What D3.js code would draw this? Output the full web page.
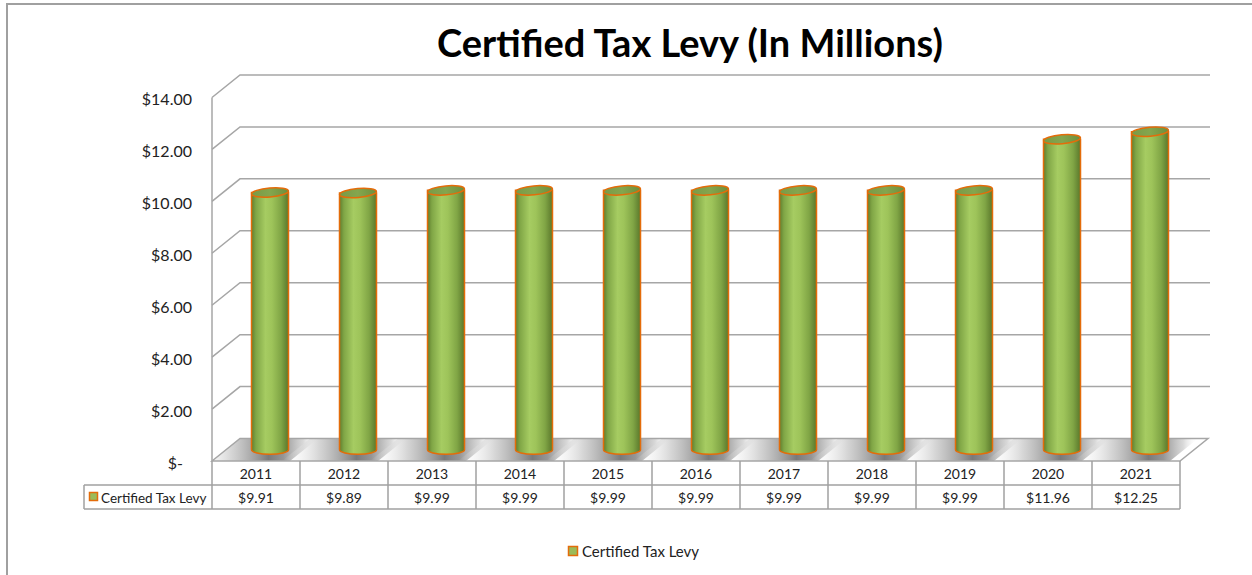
<!DOCTYPE html>
<html>
<head>
<meta charset="utf-8">
<script src="https://cdn.jsdelivr.net/npm/d3@7"></script>
<style>
  html, body { margin: 0; padding: 0; background: #fff; }
  svg { display: block; font-family: Lato, "Open Sans", sans-serif; }
</style>
</head>
<body>
<svg id="chart" width="1252" height="575"></svg>
<script>
// ---- data ----
const title = "Certified Tax Levy (In Millions)";
const seriesName = "Certified Tax Levy";
const years = ["2011","2012","2013","2014","2015","2016","2017","2018","2019","2020","2021"];
const values = [9.91, 9.89, 9.99, 9.99, 9.99, 9.99, 9.99, 9.99, 9.99, 11.96, 12.25];
const valueLabels = ["$9.91","$9.89","$9.99","$9.99","$9.99","$9.99","$9.99","$9.99","$9.99","$11.96","$12.25"];
const yTicks = [0, 2, 4, 6, 8, 10, 12, 14];
const yTickLabels = ["$-", "$2.00", "$4.00", "$6.00", "$8.00", "$10.00", "$12.00", "$14.00"];

// ---- layout ----
const svg = d3.select("#chart");
const W = 1252, H = 575;
const front = { left: 212, right: 1180, bottom: 461, top: 97.5 };
const depth = { dx: 28, dy: -22.5 };
const gridColor = "#a6a6a6";

const x = d3.scaleBand().domain(years).range([front.left, front.right]).paddingInner(0).paddingOuter(0);
const y = d3.scaleLinear().domain([0, 14]).range([front.bottom, front.top]);

const defs = svg.append("defs");

// outer chart border
svg.append("path")
  .attr("d", `M7,${H + 2} L7,4 L${W + 2},4`)
  .attr("fill", "none").attr("stroke", "#a0a0a0").attr("stroke-width", 2);

// title
svg.append("text")
  .attr("x", 690).attr("y", 57)
  .attr("text-anchor", "middle")
  .attr("font-size", 38).attr("font-weight", "bold").attr("fill", "#000")
  .text(title);

// back wall gridlines + side diagonals
const grid = svg.append("g").attr("fill", "none").attr("stroke", gridColor).attr("stroke-width", 1.5);
yTicks.forEach(t => {
  const yf = y(t), yb = y(t) + depth.dy;
  if (t > 0) {
    grid.append("path").attr("d", `M${front.left},${yf} L${front.left + depth.dx},${yb} L${front.right + depth.dx + 2},${yb}`);
  }
});
// front-left vertical axis edge
grid.append("line").attr("x1", front.left).attr("x2", front.left)
  .attr("y1", y(14)).attr("y2", front.bottom);

// floor
const floorPts = [
  [front.left, front.bottom],
  [front.left + depth.dx, front.bottom + depth.dy],
  [front.right + depth.dx, front.bottom + depth.dy],
  [front.right, front.bottom]
];
defs.append("clipPath").attr("id", "floorClip")
  .append("polygon").attr("points", floorPts.map(p => p.join(",")).join(" "));

// shadow gradient
const sg = defs.append("linearGradient").attr("id", "shadowGrad")
  .attr("x1", "0").attr("x2", "1").attr("y1", "0").attr("y2", "0");
[[0, "#ffffff", 0], [0.3, "#c4c4c4", 0.7], [0.6, "#7a7a7a", 1], [0.72, "#909090", 0.95], [0.88, "#c8c8c8", 0.7], [1, "#ffffff", 0]]
  .forEach(([o, c, a]) => sg.append("stop").attr("offset", o).attr("stop-color", c).attr("stop-opacity", a));

const shadowG = svg.append("g").attr("clip-path", "url(#floorClip)");
years.forEach((yr, i) => {
  const cx = x(yr) + x.bandwidth() / 2 + depth.dx / 2;
  const fx0 = cx - 62, fx1 = cx + 34;
  const pts = [
    [fx0 - depth.dx / 2, front.bottom],
    [fx0 + depth.dx / 2, front.bottom + depth.dy],
    [fx1 + depth.dx / 2, front.bottom + depth.dy],
    [fx1 - depth.dx / 2, front.bottom]
  ];
  shadowG.append("polygon").attr("points", pts.map(p => p.join(",")).join(" "))
    .attr("fill", "url(#shadowGrad)");
});

svg.append("polygon").attr("points", floorPts.map(p => p.join(",")).join(" "))
  .attr("fill", "none").attr("stroke", gridColor).attr("stroke-width", 1.5);

// y labels
svg.append("g").selectAll("text").data(yTicks).join("text")
  .attr("x", (d, i) => d === 0 ? 183 : 192)
  .attr("y", d => y(d) + 2)
  .attr("dy", "0.35em")
  .attr("text-anchor", "end")
  .attr("font-size", 16).attr("fill", "#222")
  .text((d, i) => yTickLabels[i]);

// cylinder gradients
const bodyGrad = defs.append("linearGradient").attr("id", "bodyGrad")
  .attr("x1", "0").attr("x2", "1").attr("y1", "0").attr("y2", "0");
[[0, "#5f7d2e"], [0.12, "#80a646"], [0.38, "#a6cc62"], [0.55, "#9ec45a"], [0.8, "#80a545"], [1, "#5a772b"]]
  .forEach(([o, c]) => bodyGrad.append("stop").attr("offset", o).attr("stop-color", c));
const topGrad = defs.append("linearGradient").attr("id", "topGrad")
  .attr("x1", "0").attr("x2", "1").attr("y1", "0").attr("y2", "0");
[[0, "#7a9a46"], [0.5, "#84a64e"], [1, "#6e8e3b"]]
  .forEach(([o, c]) => topGrad.append("stop").attr("offset", o).attr("stop-color", c));

// cylinders
const r = 18.5, ry = 4.5;
const cyl = svg.append("g");
years.forEach((yr, i) => {
  const cx = x(yr) + x.bandwidth() / 2 + depth.dx / 2;
  const yBot = y(0) + depth.dy / 2;
  const yTop = y(values[i]) + depth.dy / 2;
  const g = cyl.append("g");
  g.append("path")
    .attr("d", `M${cx - r},${yTop} L${cx - r},${yBot} A${r},${ry} 0 0 0 ${cx + r},${yBot} L${cx + r},${yTop} Z`)
    .attr("fill", "url(#bodyGrad)")
    .attr("stroke", "#e46c0a").attr("stroke-width", 1.5);
  g.append("ellipse")
    .attr("cx", cx).attr("cy", yTop).attr("rx", r).attr("ry", ry)
    .attr("transform", `rotate(-5,${cx},${yTop})`)
    .attr("fill", "url(#topGrad)")
    .attr("stroke", "#e46c0a").attr("stroke-width", 1.5);
});

// data table
const tbl = svg.append("g").attr("fill", "none").attr("stroke", "#a0a0a0").attr("stroke-width", 1.5);
const rowTop = front.bottom, rowMid = 485, rowBot = 509, tblLeft = 84;
tbl.append("line").attr("x1", tblLeft).attr("x2", front.right).attr("y1", rowMid).attr("y2", rowMid);
tbl.append("line").attr("x1", tblLeft).attr("x2", front.right).attr("y1", rowBot).attr("y2", rowBot);
tbl.append("line").attr("x1", tblLeft).attr("x2", tblLeft).attr("y1", rowMid).attr("y2", rowBot);
x.domain().forEach(yr => {
  tbl.append("line").attr("x1", x(yr)).attr("x2", x(yr)).attr("y1", rowTop).attr("y2", rowBot);
});
tbl.append("line").attr("x1", front.right).attr("x2", front.right).attr("y1", rowTop).attr("y2", rowBot);

const tt = svg.append("g").attr("font-size", 14).attr("fill", "#222").attr("text-anchor", "middle");
years.forEach((yr, i) => {
  const cx = x(yr) + x.bandwidth() / 2;
  tt.append("text").attr("x", cx).attr("y", (rowTop + rowMid) / 2 + 1).attr("dy", "0.35em").text(yr);
  tt.append("text").attr("x", cx).attr("y", (rowMid + rowBot) / 2 + 1).attr("dy", "0.35em").text(valueLabels[i]);
});

function legendKey(g, x0, y0, s) {
  g.append("rect").attr("x", x0).attr("y", y0).attr("width", s).attr("height", s)
    .attr("fill", "#9bbb59").attr("stroke", "#e46c0a").attr("stroke-width", 1.5);
}
const tl = svg.append("g");
legendKey(tl, 89.5, 492.5, 8);
tl.append("text").attr("x", 101).attr("y", (rowMid + rowBot) / 2 + 1).attr("dy", "0.35em")
  .attr("font-size", 13.5).attr("fill", "#222").text(seriesName);

// bottom legend
const lg = svg.append("g");
legendKey(lg, 568.5, 546.5, 9);
lg.append("text").attr("x", 582).attr("y", 552).attr("dy", "0.35em")
  .attr("font-size", 15).attr("fill", "#222").text(seriesName);
</script>
</body>
</html>
